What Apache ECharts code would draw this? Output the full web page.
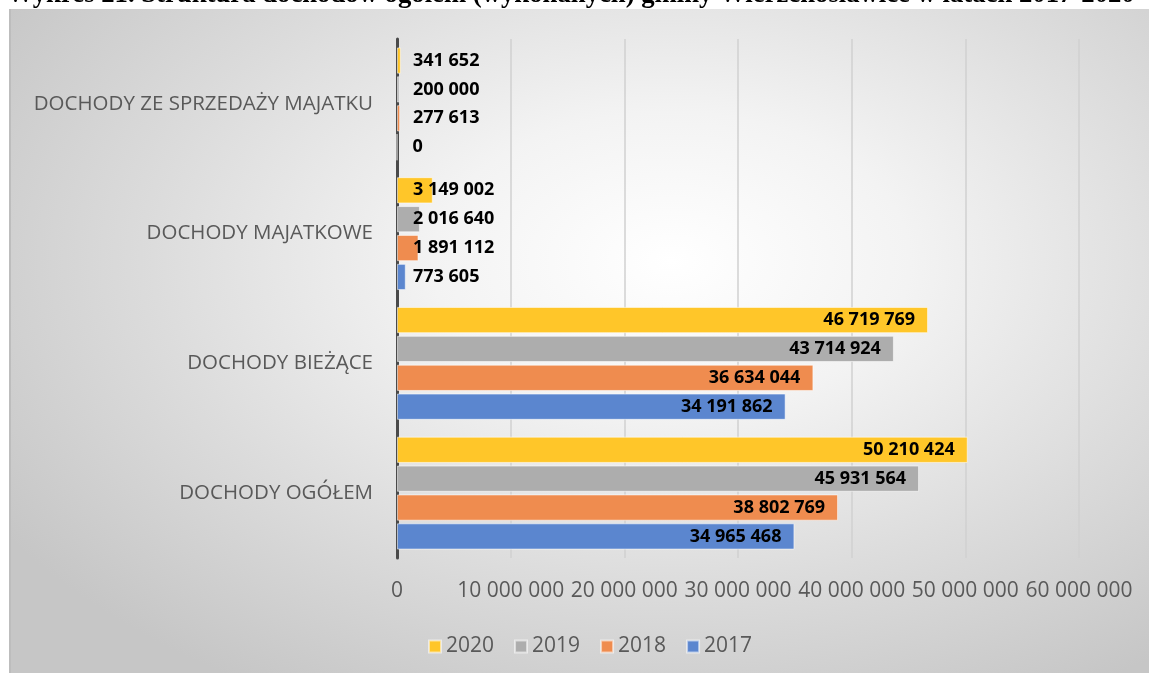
<!DOCTYPE html>
<html>
<head>
<meta charset="utf-8">
<script src="https://cdn.jsdelivr.net/npm/echarts@6/dist/echarts.min.js"></script>
<style>
  html, body { margin: 0; padding: 0; background: #fff; }
  #bg {
    position: absolute; left: 9px; top: 9px; width: 1140px; height: 664px;
    background: radial-gradient(ellipse 70% 75% at 58% 38%, #ffffff 0%, #f3f3f3 30%, #dcdcdc 65%, #c6c6c6 100%);
    border-left: 2px solid #bdbdbd;
    box-sizing: border-box;
  }
  #chart { position: absolute; left: 0; top: 0; width: 1149px; height: 673px; }
</style>
</head>
<body>
<div id="bg"></div>
<div id="chart"></div>
<script>
const TITLE = "Wykres 21. Struktura dochodów ogółem (wykonanych) gminy Wierzchosławice w latach 2017-2020";

// categories listed bottom to top
const categories = [
  "DOCHODY OGÓŁEM",
  "DOCHODY BIEŻĄCE",
  "DOCHODY MAJATKOWE",
  "DOCHODY ZE SPRZEDAŻY MAJATKU",
];

const years = ["2020", "2019", "2018", "2017"];
const values2020 = [50210424, 46719769, 3149002, 341652];
const values2019 = [45931564, 43714924, 2016640, 200000];
const values2018 = [38802769, 36634044, 1891112, 277613];
const values2017 = [34965468, 34191862, 773605, 0];
const xTicks = [0, 10000000, 20000000, 30000000, 40000000, 50000000, 60000000];

const colors = {
  "2017": "#5b86cf",
  "2018": "#ef8c4f",
  "2019": "#adadad",
  "2020": "#ffc629",
};

function spaced(value) {
  return String(Math.round(value)).replace(/\B(?=(\d{3})+(?!\d))/g, " ");
}

function barData(values) {
  return values.map(value => {
    if (value > 10000000) {
      return { value, label: { position: "insideRight", distance: 13 } };
    }
    return { value, label: { position: [16, "50%"], align: "left", verticalAlign: "middle" } };
  });
}

function makeSeries(year, values) {
  return {
    name: year,
    type: "bar",
    data: barData(values),
    barGap: "10%",
    barCategoryGap: "13%",
    itemStyle: { color: colors[year], borderColor: "rgba(255,255,255,0.55)", borderWidth: 1 },
    label: {
      show: true,
      formatter: params => spaced(params.value),
      color: "#000",
      fontFamily: "Open Sans",
      fontWeight: "bold",
      fontSize: 18,
    },
  };
}

// fit the title width to the reference
const measure = document.createElement("canvas").getContext("2d");
measure.font = "bold 100px 'Liberation Serif'";
const titleSize = 100 * 1128 / measure.measureText(TITLE).width;

const chart = echarts.init(document.getElementById("chart"));

chart.setOption({
  animation: false,
  textStyle: { fontFamily: "Open Sans" },
  graphic: [{
    type: "text",
    left: 7,
    top: 5.5 - titleSize * 0.9,
    style: {
      text: TITLE,
      fontFamily: "Liberation Serif",
      fontWeight: "bold",
      fontSize: titleSize,
      fill: "#000",
    },
  }],
  legend: {
    data: years,
    left: 423,
    top: 631,
    itemWidth: 12,
    itemHeight: 12,
    itemGap: 20,
    icon: "rect",
    textStyle: { color: "#595959", fontSize: 21, fontFamily: "Open Sans" },
  },
  grid: { left: 397, right: 70, top: 39, bottom: 115, containLabel: false },
  xAxis: {
    type: "value",
    min: xTicks[0],
    max: xTicks[xTicks.length - 1],
    interval: xTicks[1] - xTicks[0],
    axisLine: { show: false },
    axisTick: { show: false },
    axisLabel: {
      color: "#595959",
      fontSize: 21,
      fontFamily: "Open Sans",
      margin: 23,
      formatter: value => spaced(value),
    },
    splitLine: { lineStyle: { color: "#d0d0d0", width: 1.5 } },
  },
  yAxis: {
    type: "category",
    data: categories,
    axisLine: { show: true, lineStyle: { color: "#4a4a4a", width: 3 } },
    axisTick: { show: false },
    axisLabel: { color: "#595959", fontSize: 20.5, fontFamily: "Open Sans", margin: 24 },
  },
  series: years.map((year, i) => makeSeries(year, [values2020, values2019, values2018, values2017][i])),
});
</script>
</body>
</html>
